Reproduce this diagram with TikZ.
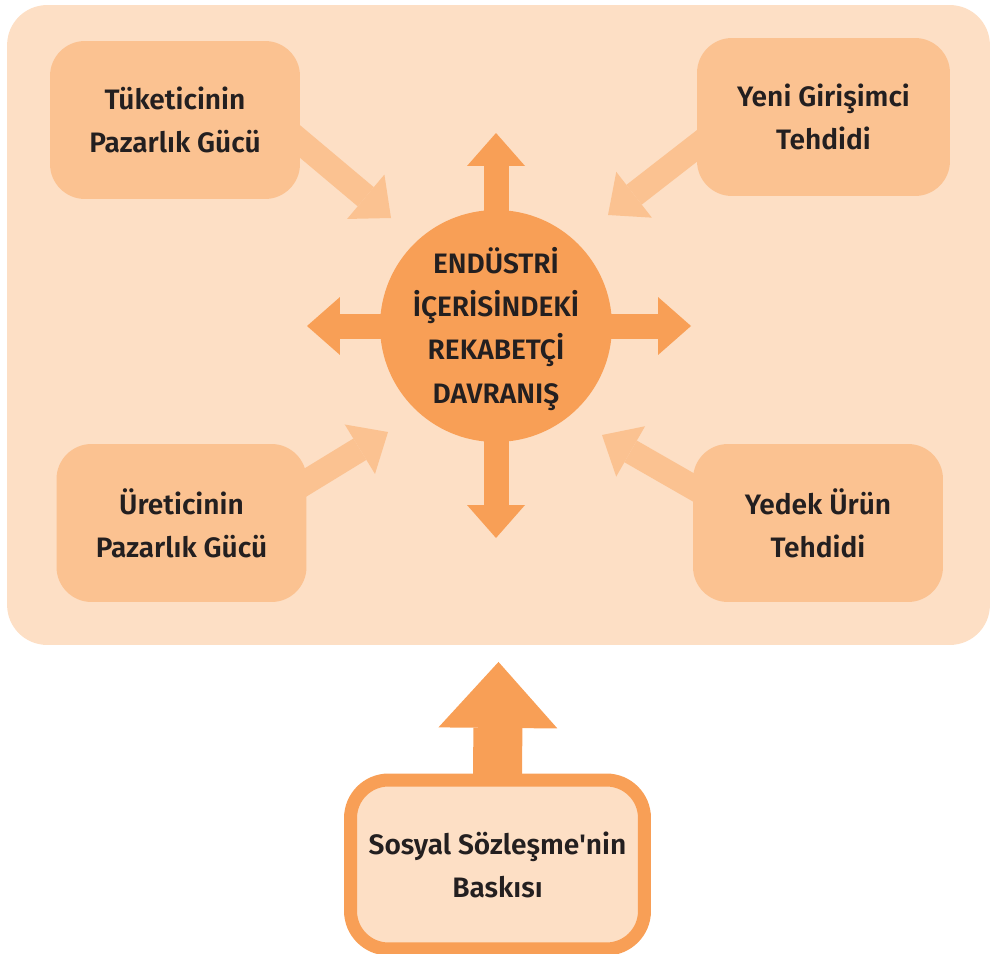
\documentclass[tikz,border=0pt]{standalone}
\usepackage{fontspec}
\setmainfont{Fira Sans}[BoldFont={Fira Sans SemiBold}]
\usetikzlibrary{arrows.meta,calc}
\definecolor{bgpeach}{HTML}{FDDFC5}
\definecolor{boxpeach}{HTML}{FBC291}
\definecolor{deeporange}{HTML}{F89F56}
\definecolor{inkdark}{HTML}{231F20}
\begin{document}
\begin{tikzpicture}[x=0.02cm,y=-0.02cm,
  yazi/.style={text=inkdark,align=center,font=\fontsize{16}{24.5}\selectfont\bfseries},
  kutu/.style={yazi,fill=boxpeach,rounded corners=0.7cm,minimum width=5cm,minimum height=3.16cm,inner sep=0pt},
  yumusak/.style={draw=boxpeach,line width=0.5cm,-{Triangle[length=0.66cm,width=1.16cm,line width=0pt]}},
  guclu/.style={draw=deeporange,line width=0.5cm,shorten <=-0.1cm,-{Triangle[length=0.66cm,width=1.16cm,line width=0pt]}}]
\useasboundingbox (0,0) rectangle (993,953);
\node[fill=bgpeach,rounded corners=0.8cm,minimum width=19.66cm,minimum height=12.8cm,inner sep=0pt,outer sep=0pt] (bg) at (498.5,325) {};

\node[kutu] (tuk) at (175,120) {Tüketicinin\\Pazarlık Gücü};
\node[kutu,minimum width=5.06cm] (yeni) at (823.5,117) {Yeni Girişimci\\Tehdidi};
\node[kutu] (ure) at (181.5,523) {Üreticinin\\Pazarlık Gücü};
\node[kutu] (yedek) at (818,523) {Yedek Ürün\\Tehdidi};

\node[circle,fill=deeporange,minimum size=4.64cm,inner sep=0pt] (rek) at (496,326) {};
\node[yazi] (rekyazi) at ($(rek)+(0,3)$) {ENDÜSTRİ\\İÇERİSİNDEKİ\\REKABETÇİ\\DAVRANIŞ};

\coordinate (ust) at (496,133);
\coordinate (alt) at (496,538);
\coordinate (sol) at (307,326);
\coordinate (sag) at (691,326);
\draw[guclu] (rek.north) -- (ust);
\draw[guclu] (rek.south) -- (alt);
\draw[guclu] (rek.west) -- (sol);
\draw[guclu] (rek.east) -- (sag);

\draw[yumusak] ($(tuk.east)+(-14,10)$) -- ($(rek)+(-105,-108)$);
\draw[yumusak] ($(yeni.west)+(13,19)$) -- ($(rek)+(112,-111)$);
\draw[yumusak] ($(ure.east)+(-12,-34)$) -- ($(rek)+(-108,106)$);
\draw[yumusak] ($(yedek.west)+(14,-28)$) -- ($(rek)+(106,109)$);

\node[yazi,draw=deeporange,fill=bgpeach,line width=0.26cm,rounded corners=0.76cm,minimum width=5.88cm,minimum height=3.38cm] (soz) at (497.5,864.5) {Sosyal Sözleşme\textquotesingle nin\\Baskısı};
\coordinate (taban) at ($(bg.south)+(0,17)$);
\draw[guclu,line width=0.98cm,-{Triangle[length=1.32cm,width=2.38cm,line width=0pt]}] (soz.north) -- (taban);
\end{tikzpicture}
\end{document}
